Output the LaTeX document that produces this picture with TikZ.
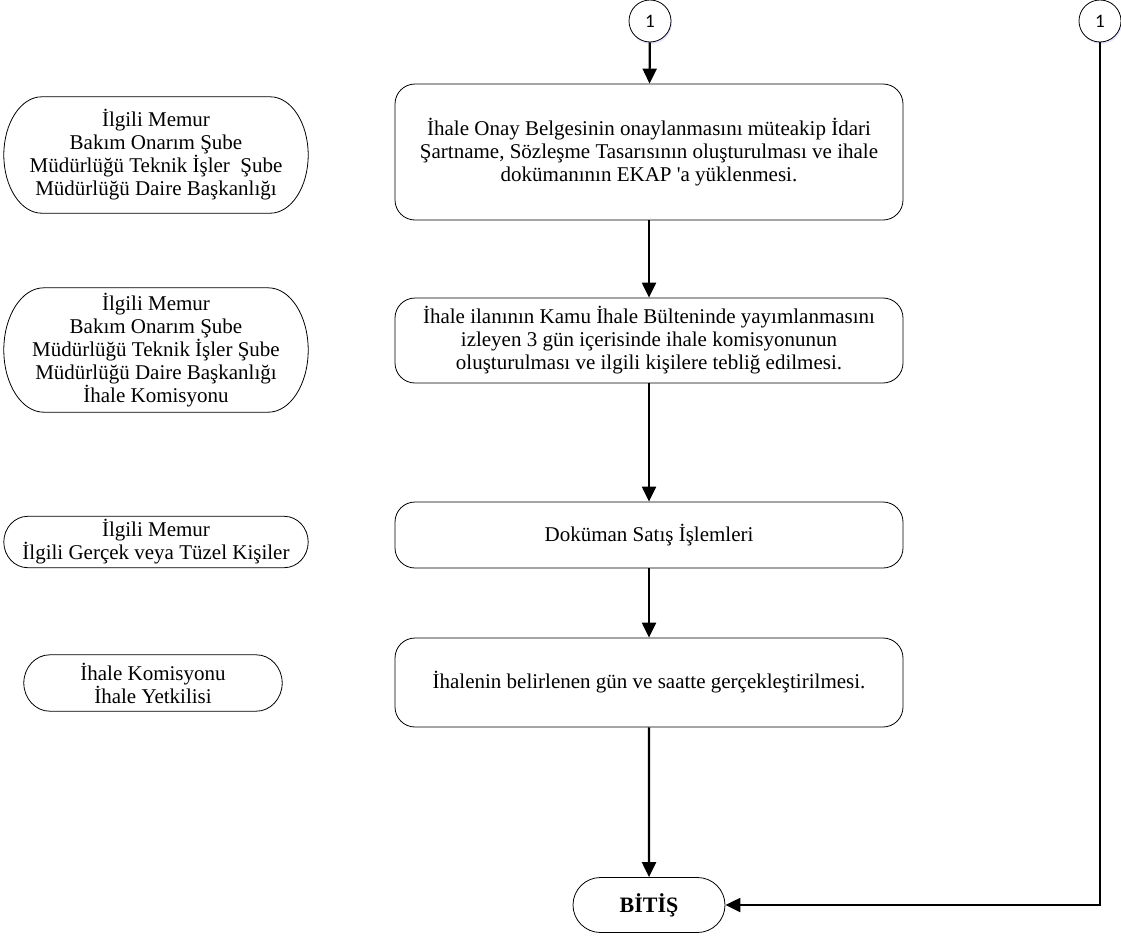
\documentclass[tikz,border=0pt]{standalone}
\usepackage{fontspec}
\setmainfont{Liberation Serif}[Ligatures=TeXOff]
\newfontfamily\numfont{Carlito}
\usetikzlibrary{shapes.misc,arrows.meta,shadows,calc}
\newcommand\termshape[2]{%
 \draw[line width=0.8pt]
  ([xshift=#2]#1.north west) -- ([xshift=-#2]#1.north east)
  .. controls ($([xshift=-#2]#1.north east)!0.552!(#1.north east)$) and ($(#1.east)!0.552!(#1.north east)$) .. (#1.east)
  .. controls ($(#1.east)!0.552!(#1.south east)$) and ($([xshift=-#2]#1.south east)!0.552!(#1.south east)$) .. ([xshift=-#2]#1.south east)
  -- ([xshift=#2]#1.south west)
  .. controls ($([xshift=#2]#1.south west)!0.552!(#1.south west)$) and ($(#1.west)!0.552!(#1.south west)$) .. (#1.west)
  .. controls ($(#1.west)!0.552!(#1.north west)$) and ($([xshift=#2]#1.north west)!0.552!(#1.north west)$) .. ([xshift=#2]#1.north west) -- cycle;}
\begin{document}
\begin{tikzpicture}[x=1pt,y=-1pt,
  every node/.style={font=\fontsize{21}{23}\selectfont, align=center, inner sep=0pt},
  procbox/.style={draw, line width=0.8pt, rounded corners=20pt, minimum width=508pt},
  actor/.style={rectangle, minimum width=304pt},
  conn/.style={draw, circle, line width=0.8pt, minimum size=42pt, font=\numfont\fontsize{19}{20}\selectfont,
     drop shadow={fill=blue!40, opacity=0.25, shadow xshift=1pt, shadow yshift=-2pt}, fill=white},
  flow/.style={line width=2.2pt, -{Triangle[length=15pt,width=14pt]}}
]
\useasboundingbox (0,0) rectangle (1121,937);

% connectors
\node[conn] (c1) at (650,21) {1};
\node[conn] (c2) at (1100,21) {1};

% process boxes
\node[procbox, minimum height=136pt] (b1) at (649,152)
  {İhale Onay Belgesinin onaylanmasını müteakip İdari\\Şartname, Sözleşme Tasarısının oluşturulması ve ihale\\dokümanının EKAP 'a yüklenmesi.};
\node[procbox, minimum height=85pt] (b2) at (649,340.5)
  {İhale ilanının Kamu İhale Bülteninde yayımlanmasını\\izleyen 3 gün içerisinde ihale komisyonunun\\oluşturulması ve ilgili kişilere tebliğ edilmesi.};
\node[procbox, minimum height=66pt] (b3) at (649,535)
  {Doküman Satış İşlemleri};
\node[procbox, minimum height=89pt] (b4) at (649,682.5)
  {İhalenin belirlenen gün ve saatte gerçekleştirilmesi.};

% end
\node[draw, line width=0.8pt, rounded rectangle, minimum width=152pt, minimum height=55pt,
      font=\bfseries\fontsize{22}{22}\selectfont] (end) at (649,905) {BİTİŞ};

% responsible actors
\node[actor, minimum height=116pt] (a1) at (156,155)
  {İlgili Memur\\Bakım Onarım Şube\\Müdürlüğü Teknik İşler~~Şube\\Müdürlüğü Daire Başkanlığı};
\node[actor, minimum height=124pt] (a2) at (156,350)
  {İlgili Memur\\Bakım Onarım Şube\\Müdürlüğü Teknik İşler Şube\\Müdürlüğü Daire Başkanlığı\\İhale Komisyonu};
\node[actor, minimum height=51pt] (a3) at (156,542)
  {İlgili Memur\\İlgili Gerçek veya Tüzel Kişiler};
\node[actor, minimum width=258pt, minimum height=56pt] (a4) at (153,683)
  {İhale Komisyonu\\İhale Yetkilisi};
\termshape{a1}{38pt}
\termshape{a2}{40pt}
\termshape{a3}{24pt}
\termshape{a4}{26pt}

% flow
\draw[flow] (c1) -- (b1);
\draw[flow] (b1) -- (b2);
\draw[flow] (b2) -- (b3);
\draw[flow] (b3) -- (b4);
\draw[flow] (b4) -- (end);
\draw[flow] (c2.south) |- (end.east);
\end{tikzpicture}
\end{document}
